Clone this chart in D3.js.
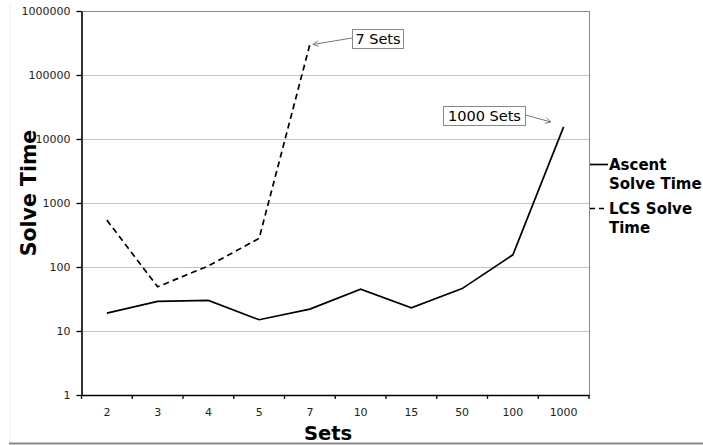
<!DOCTYPE html>
<html>
<head>
<meta charset="utf-8">
<script src="https://cdn.jsdelivr.net/npm/d3@7"></script>
<style>
  body { margin: 0; background: #fff; }
  svg { display: block; font-family: "DejaVu Sans", Verdana, sans-serif; }
</style>
</head>
<body>
<div id="chart"></div>
<script>
const categories = ["2", "3", "4", "5", "7", "10", "15", "50", "100", "1000"];
const ascentSolveTime = [19, 29, 30, 15, 22, 45, 23, 46, 155, 15500];
const lcsSolveTime = [540, 49, 104, 280, 300000, null, null, null, null, null];
const yTicks = [1, 10, 100, 1000, 10000, 100000, 1000000];

const width = 703;
const height = 445;
const marginTop = 11;
const marginRight = 114;
const marginBottom = 50;
const marginLeft = 81.5;

const svg = d3.select("#chart")
  .append("svg")
  .attr("width", width)
  .attr("height", height);

const x = d3.scaleBand()
  .domain(categories)
  .range([marginLeft, width - marginRight])
  .padding(0);

const y = d3.scaleLog()
  .domain([1, 1000000])
  .range([height - marginBottom, marginTop]);

// faint outer frame + bottom rule
svg.append("line")
  .attr("x1", 10).attr("x2", 10).attr("y1", 3).attr("y2", 443)
  .attr("stroke", "#f0f0f0");
svg.append("line")
  .attr("x1", 9).attr("x2", width).attr("y1", 443.5).attr("y2", 443.5)
  .attr("stroke", "#888").attr("stroke-width", 2);

// gridlines
svg.append("g")
  .selectAll("line")
  .data(yTicks.slice(1))
  .join("line")
  .attr("x1", marginLeft)
  .attr("x2", width - marginRight)
  .attr("y1", d => Math.round(y(d)) + 0.5)
  .attr("y2", d => Math.round(y(d)) + 0.5)
  .attr("stroke", d => d === 1000000 ? "#888" : "#c4c4c4");

// right border of plot area
svg.append("line")
  .attr("x1", width - marginRight + 0.5).attr("x2", width - marginRight + 0.5)
  .attr("y1", y(1000000)).attr("y2", y(1))
  .attr("stroke", "#888");

// y axis
svg.append("g")
  .attr("transform", `translate(${marginLeft},0)`)
  .call(d3.axisLeft(y).tickValues(yTicks).tickFormat(d3.format("d")).tickSize(5).tickPadding(6).tickSizeOuter(0))
  .call(g => g.select(".domain").attr("stroke-width", 1.6))
  .call(g => g.selectAll(".tick line").attr("stroke-width", 1.3))
  .call(g => g.selectAll("text").attr("font-size", 11).attr("fill", "#222").attr("font-family", "DejaVu Sans"));

// x axis: labels centered in bands, ticks at band edges
const xAxis = svg.append("g")
  .attr("transform", `translate(0,${height - marginBottom})`);
xAxis.call(d3.axisBottom(x).tickSize(0).tickPadding(13))
  .call(g => g.select(".domain").attr("stroke-width", 1.6))
  .call(g => g.selectAll("text").attr("font-size", 11).attr("fill", "#222").attr("font-family", "DejaVu Sans"));
xAxis.append("g")
  .selectAll("line")
  .data(categories.concat(["end"]))
  .join("line")
  .attr("x1", (d, i) => marginLeft + i * x.step())
  .attr("x2", (d, i) => marginLeft + i * x.step())
  .attr("y1", 0)
  .attr("y2", 4)
  .attr("stroke", "#000")
  .attr("stroke-width", 1.3);

// series lines
const line = d3.line()
  .defined(d => d.v != null)
  .x(d => x(d.c) + x.bandwidth() / 2)
  .y(d => y(d.v));

svg.append("path")
  .datum(categories.map((c, i) => ({ c, v: ascentSolveTime[i] })))
  .attr("fill", "none")
  .attr("stroke", "#000")
  .attr("stroke-width", 1.7)
  .attr("d", line);

svg.append("path")
  .datum(categories.map((c, i) => ({ c, v: lcsSolveTime[i] })))
  .attr("fill", "none")
  .attr("stroke", "#000")
  .attr("stroke-width", 1.7)
  .attr("stroke-dasharray", "6,4")
  .attr("d", line);

// axis titles
svg.append("text")
  .attr("transform", `translate(36,193) rotate(-90)`)
  .attr("text-anchor", "middle")
  .attr("font-size", 20.5)
  .attr("font-weight", "bold")
  .text("Solve Time");

svg.append("text")
  .attr("x", 328)
  .attr("y", 440)
  .attr("text-anchor", "middle")
  .attr("font-size", 19.5)
  .attr("font-weight", "bold")
  .text("Sets");

// legend
const legend = svg.append("g").attr("font-size", 15).attr("font-weight", "bold");
legend.append("line")
  .attr("x1", 590).attr("x2", 608).attr("y1", 164.5).attr("y2", 164.5)
  .attr("stroke", "#000").attr("stroke-width", 1.7);
legend.append("text").attr("x", 609).attr("y", 170).text("Ascent");
legend.append("text").attr("x", 609).attr("y", 189).text("Solve Time");
legend.append("line")
  .attr("x1", 590).attr("x2", 608).attr("y1", 208.5).attr("y2", 208.5)
  .attr("stroke", "#000").attr("stroke-width", 1.7).attr("stroke-dasharray", "5,4");
legend.append("text").attr("x", 609).attr("y", 214).text("LCS Solve");
legend.append("text").attr("x", 609).attr("y", 233).text("Time");

// annotations
const defs = svg.append("defs");
defs.append("marker")
  .attr("id", "arrow")
  .attr("viewBox", "0 0 10 10")
  .attr("refX", 9).attr("refY", 5)
  .attr("markerWidth", 7).attr("markerHeight", 7)
  .attr("orient", "auto")
  .append("path")
  .attr("d", "M1,1 L9,5 L1,9")
  .attr("fill", "none")
  .attr("stroke", "#777")
  .attr("stroke-width", 1.2);

function annotate(label, bx, by, w, tx, ty, fromRight) {
  const g = svg.append("g");
  g.append("rect")
    .attr("x", bx + 0.5).attr("y", by + 0.5)
    .attr("width", w).attr("height", 19)
    .attr("fill", "#fff").attr("stroke", "#888");
  g.append("text")
    .attr("x", bx + w / 2 + 0.5)
    .attr("y", by + 15)
    .attr("text-anchor", "middle")
    .attr("font-size", 14.5)
    .text(label);
  const sx = fromRight ? bx + w + 0.5 : bx;
  g.append("line")
    .attr("x1", sx).attr("y1", by + 9)
    .attr("x2", tx).attr("y2", ty)
    .attr("stroke", "#777")
    .attr("marker-end", "url(#arrow)");
}

annotate("7 Sets", 352, 29, 51, x("7") + x.bandwidth() / 2 + 3, y(lcsSolveTime[4]), false);
annotate("1000 Sets", 443, 106, 82, 551, 122, true);
</script>
</body>
</html>
